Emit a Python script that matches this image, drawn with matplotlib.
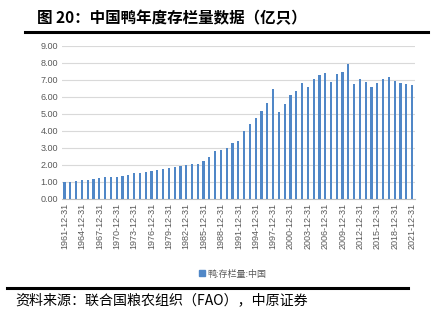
import matplotlib.pyplot as plt
from matplotlib.lines import Line2D
from matplotlib.patches import Patch

plt.rcParams['font.family'] = ['Liberation Sans', 'Noto Sans CJK SC', 'DejaVu Sans']

# 鸭存栏量（亿只），1961-2021
years = list(range(1961, 2022))
values = [1.00, 1.02, 1.06, 1.10, 1.14, 1.16, 1.22, 1.27, 1.29, 1.31,
          1.37, 1.43, 1.51, 1.55, 1.61, 1.67, 1.71, 1.76, 1.80, 1.88,
          1.96, 2.00, 2.06, 2.08, 2.24, 2.47, 2.84, 2.90, 3.00, 3.27,
          3.41, 3.98, 4.43, 4.76, 5.16, 5.65, 6.47, 5.12, 5.59, 6.10,
          6.33, 6.82, 6.59, 7.06, 7.27, 7.39, 6.90, 7.37, 7.49, 7.94,
          6.75, 7.06, 6.90, 6.61, 6.82, 7.08, 7.18, 6.94, 6.80, 6.76,
          6.73]
labels = [f"{y}-12-31" for y in years]

bar_color = '#5087C7'
grey = '#595959'

fig = plt.figure(figsize=(4.35, 3.28), dpi=100)
ax = fig.add_axes([0.1425, 0.3933, 0.8115, 0.4667])

x = list(range(len(years)))
ax.bar(x, values, width=0.38, color=bar_color, zorder=3)

ax.set_ylim(0, 9)
ax.set_yticks([i for i in range(10)])
ax.set_yticklabels([f"{i:.2f}" for i in range(10)], fontsize=6.5, color=grey)
ax.set_xlim(-0.45, 60.5)
ax.set_xticks(x[::3])
ax.set_xticklabels(labels[::3], rotation=90, fontsize=6.5, color=grey)
ax.tick_params(length=0, pad=3)
ax.grid(axis='y', color='#D9D9D9', linewidth=0.8, zorder=0)
for s in ['top', 'right', 'left']:
    ax.spines[s].set_visible(False)
ax.spines['bottom'].set_color('#BFBFBF')

# legend
fig.legend(handles=[Patch(color=bar_color, label='鸭:存栏量:中国')],
           loc='center', bbox_to_anchor=(0.535, 1 - 274 / 328), frameon=False,
           handlelength=0.6, handleheight=0.6, handletextpad=0.3,
           labelcolor=grey, prop={'family': 'Noto Sans CJK SC', 'size': 6.5})

# title and source
fig.text(37 / 435, 1 - 18 / 328, '图 20：中国鸭年度存栏量数据（亿只）',
         fontsize=11.2, fontweight='bold', family='Noto Sans CJK SC', va='center')
fig.add_artist(Line2D([25 / 435, 428 / 435], [1 - 32 / 328, 1 - 32 / 328],
                      color='black', linewidth=2.2))
fig.add_artist(Line2D([7 / 435, 408 / 435], [1 - 288 / 328, 1 - 288 / 328],
                      color='black', linewidth=2.2))
fig.text(15 / 435, 1 - 300 / 328, '资料来源：联合国粮农组织（FAO），中原证券',
         fontsize=10.1, family='Noto Sans CJK SC', va='center')

fig.savefig('out.png', dpi=100)
